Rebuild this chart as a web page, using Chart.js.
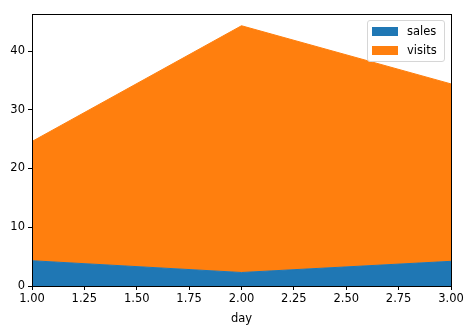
<!DOCTYPE html>
<html lang="en">
<head>
<meta charset="UTF-8">
<title>sales / visits by day</title>
<script src="https://cdn.jsdelivr.net/npm/chart.js"></script>
<style>
    html, body { margin: 0; padding: 0; background: #fff; }
    #wrap { position: relative; width: 471px; height: 326px; }
    #legend {
        position: absolute;
        left: 367px; top: 20px;
        width: 76px; height: 40px;
        border: 1px solid #d6d6d6;
        border-radius: 3px;
        background: rgba(255,255,255,0.8);
        font-family: 'DejaVu Sans', sans-serif;
        font-size: 11.5px;
        color: #000;
    }
    .item { position: absolute; left: 4px; height: 12px; line-height: 12px; }
    .sw { position: absolute; left: 0; top: 2px; width: 26px; height: 9px; }
    .lab { position: absolute; left: 35px; top: 0; white-space: nowrap; }
</style>
</head>
<body>
<div id="wrap">
    <canvas id="chart" width="471" height="326"></canvas>
    <div id="legend"></div>
</div>
<script>
// data
const days = [1, 2, 3];
const sales = [4.3, 2.3, 4.2];
const visits = [20.3, 42, 30.2];
const seriesNames = ['sales', 'visits'];
const colors = ['#1f77b4', '#ff7f0e'];
const xTicks = [1.00, 1.25, 1.50, 1.75, 2.00, 2.25, 2.50, 2.75, 3.00];
const yTicks = [0, 10, 20, 30, 40];

const font = { family: 'DejaVu Sans', size: 11.5 };

const frame = {
    id: 'frame',
    afterDraw(chart) {
        const a = chart.chartArea, c = chart.ctx;
        c.save();
        c.strokeStyle = '#000';
        c.lineWidth = 1;
        c.strokeRect(Math.round(a.left) + 0.5, Math.round(a.top) + 0.5,
                     Math.round(a.right - a.left), Math.round(a.bottom - a.top));
        c.restore();
    }
};

new Chart(document.getElementById('chart'), {
    type: 'line',
    data: {
        datasets: [
            {
                label: seriesNames[0],
                data: days.map((d, i) => ({ x: d, y: sales[i] })),
                backgroundColor: colors[0],
                borderColor: colors[0],
                borderWidth: 1,
                pointRadius: 0,
                tension: 0,
                fill: 'origin'
            },
            {
                label: seriesNames[1],
                data: days.map((d, i) => ({ x: d, y: visits[i] })),
                backgroundColor: colors[1],
                borderColor: colors[1],
                borderWidth: 1,
                pointRadius: 0,
                tension: 0,
                fill: '-1'
            }
        ]
    },
    options: {
        responsive: false,
        animation: false,
        layout: { padding: { top: 14, right: 20, left: 0, bottom: 0 } },
        plugins: { legend: { display: false }, tooltip: { enabled: false } },
        scales: {
            x: {
                type: 'linear',
                min: 1, max: 3,
                afterBuildTicks: s => { s.ticks = xTicks.map(v => ({ value: v })); },
                afterFit: s => { s.height = 40; },
                ticks: {
                    color: '#000', font: font, padding: 2, maxRotation: 0,
                    callback: v => v.toFixed(2)
                },
                grid: { drawOnChartArea: false, tickLength: 4, tickColor: '#000' },
                border: { display: true, color: '#000' },
                title: { display: true, text: 'day', color: '#000', font: font, padding: { top: 4, bottom: 0 } }
            },
            y: {
                stacked: true,
                min: 0, max: 46.3,
                afterBuildTicks: s => { s.ticks = yTicks.map(v => ({ value: v })); },
                afterFit: s => { s.width = 32; },
                ticks: { color: '#000', font: font, padding: 3 },
                grid: { drawOnChartArea: false, tickLength: 4, tickColor: '#000' },
                border: { display: true, color: '#000' }
            }
        }
    },
    plugins: [frame]
});

// legend box, top right like matplotlib
const lg = document.getElementById('legend');
seriesNames.forEach((n, i) => {
    const it = document.createElement('div');
    it.className = 'item';
    it.style.top = (4 + i * 19) + 'px';
    it.innerHTML = '<span class="sw" style="background:' + colors[i] + '"></span><span class="lab">' + n + '</span>';
    lg.appendChild(it);
});
</script>
</body>
</html>
